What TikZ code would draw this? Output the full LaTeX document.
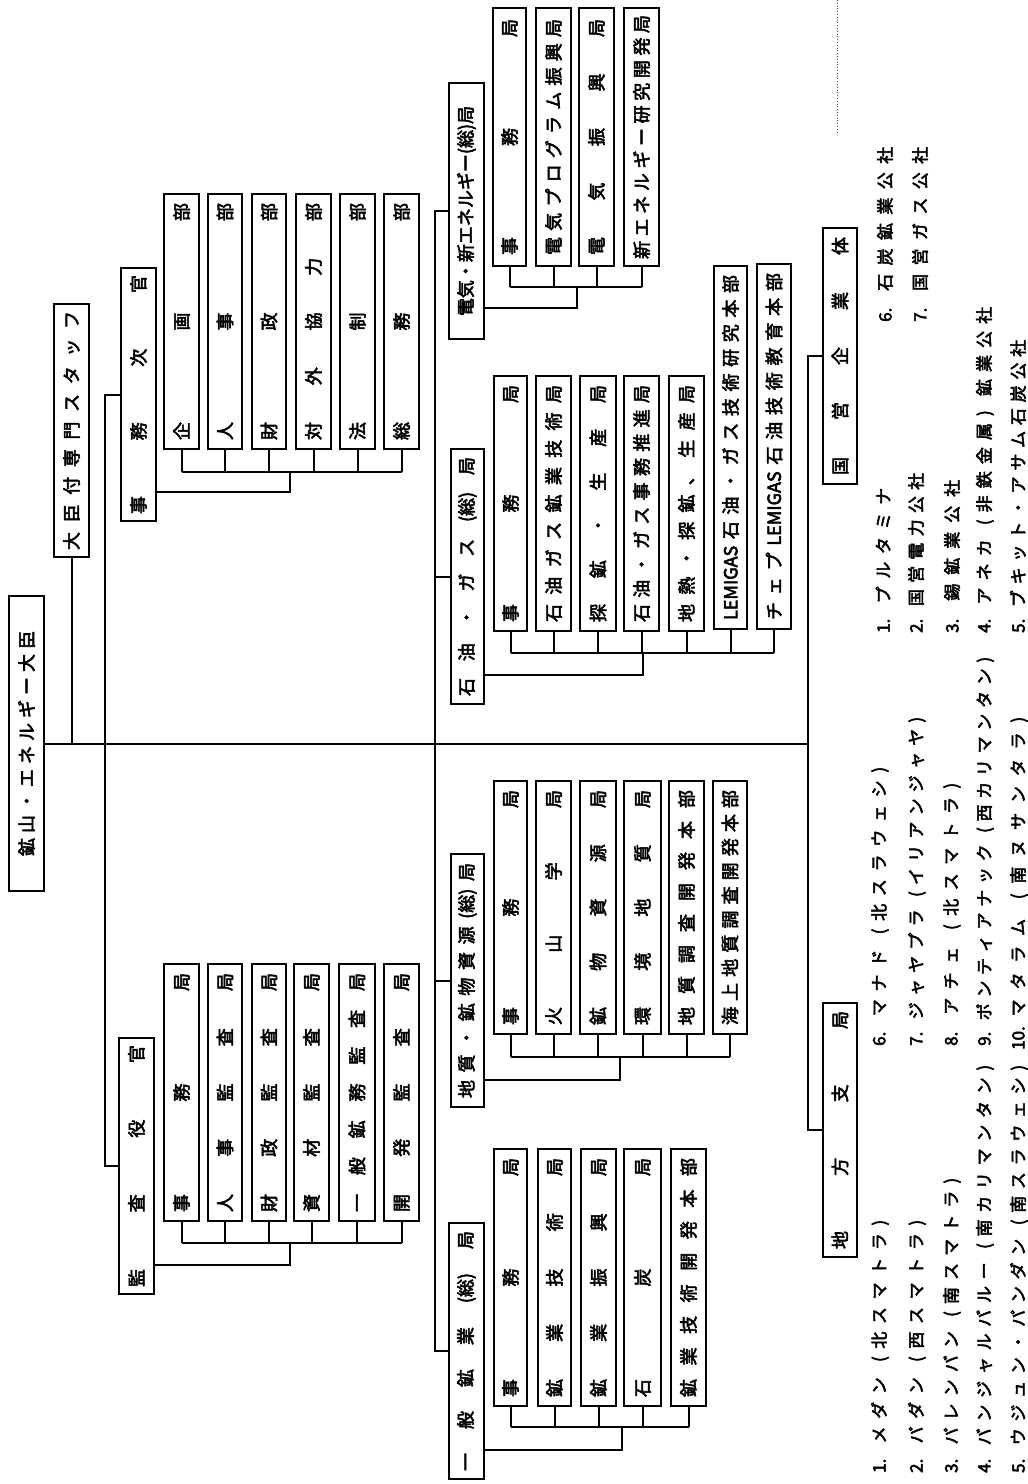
\documentclass[tikz,border=0pt]{standalone}
\usepackage{fontspec}
\setmainfont{Noto Sans CJK JP}[AutoFakeBold=3]
\tikzset{
  obx/.style={draw, line width=2.4pt, rotate=90, inner sep=0pt, fill=white,
    font=\bfseries\fontsize{18}{18}\selectfont},
  con/.style={line width=2pt},
  legtext/.style={rotate=90, inner sep=0pt, anchor=west,
    font=\bfseries\fontsize{17}{17}\selectfont},
}
\newcommand{\orgbox}[7]{%
  \pgfmathsetmacro{\oX}{(#2+#3)/2}%
  \pgfmathsetmacro{\oY}{(#4+#5)/2}%
  \pgfmathsetmacro{\oL}{#5-#4-2.4}%
  \pgfmathsetmacro{\oT}{#3-#2-2.4}%
  \pgfmathsetmacro{\oW}{#5-#4-2*#6}%
  \node[obx, minimum width=\oL pt, minimum height=\oT pt] (#1) at (\oX,\oY) {\makebox[\oW pt][s]{#7}};%
}
\newcommand{\orgboxc}[7]{%
  \pgfmathsetmacro{\oX}{(#2+#3)/2}%
  \pgfmathsetmacro{\oY}{(#4+#5)/2}%
  \pgfmathsetmacro{\oL}{#5-#4-2.4}%
  \pgfmathsetmacro{\oT}{#3-#2-2.4}%
  \pgfmathsetmacro{\oW}{#5-#4-2*#6}%
  \node[obx, minimum width=\oL pt, minimum height=\oT pt] (#1) at (\oX,\oY) {\makebox[\oW pt][c]{#7}};%
}
\newcommand{\legtxt}[5]{%
  \pgfmathsetmacro{\oW}{#3-#4}%
  \node[legtext] (#1) at (#2,#3) {\makebox[\oW pt][s]{#5}};%
}
\begin{document}
\begin{tikzpicture}[x=1pt,y=-1pt]
\useasboundingbox (0,0) rectangle (1028,1484);
\fill[white] (0,0) rectangle (1028,1484);

% ---- level 0 / 1
\orgbox{M}{8}{45}{595}{892}{36}{鉱 山 ・ エ ネ ル ギ ー 大 臣}
\orgbox{A}{53}{90}{303}{558}{8}{大 臣 付 専 門 ス タ ッ フ}
\orgbox{J}{120}{157}{267}{522}{8}{事 務 次 官}
\orgbox{K}{118}{155}{1037}{1295}{8}{監 査 役 官}
\orgboxc{E}{448}{485}{82}{340}{20}{電気・新エネルギー(総)局}
\orgbox{P}{450}{485}{448}{705}{9}{石 油 ・ ガ ス (総) 局}
\orgbox{G}{450}{485}{853}{1108}{10}{地 質 ・ 鉱 物 資 源 (総) 局}
\orgbox{I}{448}{485}{1222}{1480}{9}{一 般 鉱 業 (総) 局}
\orgbox{N}{822}{858}{227}{485}{10}{国 営 企 業 体}
\orgbox{L}{822}{858}{1002}{1258}{9}{地 方 支 局}

% ---- 事務次官 group
\orgbox{J1}{163}{200}{193}{450}{10}{企 画 部}
\orgbox{J2}{207}{243}{193}{450}{10}{人 事 部}
\orgbox{J3}{251}{287}{193}{450}{10}{財 政 部}
\orgbox{J4}{295}{332}{193}{450}{10}{対 外 協 力 部}
\orgbox{J5}{339}{376}{193}{450}{10}{法 制 部}
\orgbox{J6}{383}{420}{193}{450}{10}{総 務 部}

% ---- 監査役官 group
\orgbox{K1}{163}{200}{963}{1222}{10}{事 務 局}
\orgbox{K2}{207}{243}{963}{1222}{10}{人 事 監 査 局}
\orgbox{K3}{251}{287}{963}{1222}{10}{財 政 監 査 局}
\orgbox{K4}{293}{330}{963}{1222}{10}{資 材 監 査 局}
\orgbox{K5}{338}{376}{963}{1222}{10}{一 般 鉱 務 監 査 局}
\orgbox{K6}{383}{420}{963}{1222}{10}{開 発 監 査 局}

% ---- 電気 group
\orgbox{E1}{492}{527}{7}{267}{12}{事 務 局}
\orgbox{E2}{535}{572}{7}{267}{12}{電 気 プ ロ グ ラ ム 振 興 局}
\orgbox{E3}{578}{615}{7}{267}{12}{電 気 振 興 局}
\orgbox{E4}{623}{660}{7}{267}{8}{新 エ ネ ル ギ ー 研 究 開 発 局}

% ---- 石油 group
\orgbox{P1}{493}{528}{375}{632}{10}{事 務 局}
\orgbox{P2}{535}{572}{375}{632}{10}{石 油 ガ ス 鉱 業 技 術 局}
\orgbox{P3}{579}{617}{375}{632}{10}{探 鉱 ・ 生 産 局}
\orgbox{P4}{623}{660}{375}{632}{10}{石 油 ・ ガ ス 事 務 推 進 局}
\orgbox{P5}{668}{705}{375}{632}{10}{地 熱 ・ 探 鉱 、 生 産 局}
\orgbox{P6}{713}{748}{265}{630}{10}{LEMIGAS 石 油 ・ ガ ス 技 術 研 究 本 部}
\orgbox{P7}{756}{792}{263}{630}{10}{チ ェ プ LEMIGAS 石 油 技 術 教 育 本 部}

% ---- 地質 group
\orgbox{G1}{493}{528}{780}{1035}{10}{事 務 局}
\orgbox{G2}{535}{572}{780}{1035}{10}{火 山 学 局}
\orgbox{G3}{579}{617}{780}{1035}{10}{鉱 物 資 源 局}
\orgbox{G4}{623}{662}{780}{1035}{10}{環 境 地 質 局}
\orgbox{G5}{668}{705}{780}{1035}{10}{地 質 調 査 開 発 本 部}
\orgbox{G6}{712}{748}{780}{1035}{10}{海 上 地 質 調 査 開 発 本 部}

% ---- 一般鉱業 group
\orgbox{I1}{493}{528}{1148}{1407}{10}{事 務 局}
\orgbox{I2}{537}{572}{1148}{1407}{10}{鉱 業 技 術 局}
\orgbox{I3}{580}{617}{1148}{1407}{10}{鉱 業 振 興 局}
\orgbox{I4}{623}{662}{1148}{1407}{10}{石 炭 局}
\orgbox{I5}{670}{707}{1148}{1407}{10}{鉱 業 技 術 開 発 本 部}

% ---- trunk lines
\coordinate (tJ) at (105,0);
\coordinate (tE) at (435,0);
\coordinate (tN) at (808,0);
\draw[con] (M.south) -- (M.south -| tN);
\draw[con] (A.west) -- (A.west |- M.south);
\draw[con] (J.north) -- (J.north -| tJ) -- (K.north -| tJ) -- (K.north);
\draw[con] (E.north) -- (E.north -| tE) -- (I.north -| tE) -- (I.north);
\draw[con] (P.north) -- (P.north -| tE);
\draw[con] (G.north) -- (G.north -| tE);
\draw[con] (N.north) -- (N.north -| tN) -- (L.north -| tN) -- (L.north);

% ---- brackets
\coordinate (Jb) at (290,472);  \coordinate (Jl) at (290,492);
\draw[con] (J.south |- Jl) -- (Jl) -- (Jb);
\draw[con] (J1.west |- Jb) -- (J6.west |- Jb);
\foreach \i in {1,...,6} \draw[con] (J\i.west) -- (J\i.west |- Jb);

\coordinate (Kb) at (290,1243); \coordinate (Kl) at (290,1265);
\draw[con] (K.south |- Kl) -- (Kl) -- (Kb);
\draw[con] (K1.west |- Kb) -- (K6.west |- Kb);
\foreach \i in {1,...,6} \draw[con] (K\i.west) -- (K\i.west |- Kb);

\coordinate (Eb) at (577,287);  \coordinate (El) at (577,308);
\draw[con] (E.south |- El) -- (El) -- (Eb);
\draw[con] (E1.west |- Eb) -- (E4.west |- Eb);
\foreach \i in {1,...,4} \draw[con] (E\i.west) -- (E\i.west |- Eb);

\coordinate (Pb) at (643,653);  \coordinate (Pl) at (643,675);
\draw[con] (P.south |- Pl) -- (Pl) -- (Pb);
\draw[con] (P1.west |- Pb) -- (P7.west |- Pb);
\foreach \i in {1,...,7} \draw[con] (P\i.west) -- (P\i.west |- Pb);

\coordinate (Gb) at (620,1057); \coordinate (Gl) at (620,1080);
\draw[con] (G.south |- Gl) -- (Gl) -- (Gb);
\draw[con] (G1.west |- Gb) -- (G6.west |- Gb);
\foreach \i in {1,...,6} \draw[con] (G\i.west) -- (G\i.west |- Gb);

\coordinate (Ib) at (622,1427); \coordinate (Il) at (622,1450);
\draw[con] (I.south |- Il) -- (Il) -- (Ib);
\draw[con] (I1.west |- Ib) -- (I5.west |- Ib);
\foreach \i in {1,...,5} \draw[con] (I\i.west) -- (I\i.west |- Ib);

% ---- scan fold mark
\draw[dotted, line width=0.8pt, black!70] (837,0) -- (837,133);

% ---- legend
\legtxt{a1}{880}{1473}{1220}{1.\ \ メ ダ ン \ ( 北 ス マ ト ラ )}
\legtxt{a2}{917}{1473}{1220}{2.\ \ パ ダ ン \ ( 西 ス マ ト ラ )}
\legtxt{a3}{952}{1473}{1178}{3.\ \ パ レ ン バ ン \ ( 南 ス マ ト ラ )}
\legtxt{a4}{985}{1473}{1065}{4.\ \ バ ン ジ ャ ル バ ル ー \ ( 南 カ リ マ ン タ ン )}
\legtxt{a5}{1019}{1473}{1065}{5.\ \ ウ ジ ュ ン ・ パ ン ダ ン \ ( 南 ス ラ ウ ェ シ )}

\legtxt{b6}{880}{1046}{767}{6.\ \ マ ナ ド \ ( 北 ス ラ ウ ェ シ )}
\legtxt{b7}{917}{1046}{717}{7.\ \ ジ ャ ヤ プ ラ \ ( イ リ ア ン ジ ャ ヤ )}
\legtxt{b8}{952}{1046}{783}{8.\ \ ア チ ェ \ ( 北 ス マ ト ラ )}
\legtxt{b9}{985}{1046}{657}{9.\ \ ポ ン テ ィ ア ナ ッ ク \ ( 西 カ リ マ ン タ ン )}
\legtxt{b10}{1019}{1050}{717}{10.\ マ タ ラ ム \ ( 南 ヌ サ ン タ ラ )}

\legtxt{c1}{883}{633}{488}{1.\ \ プ ル タ ミ ナ}
\legtxt{c2}{916}{633}{473}{2.\ \ 国 営 電 力 公 社}
\legtxt{c3}{952}{633}{480}{3.\ \ 錫 鉱 業 公 社}
\legtxt{c4}{985}{633}{307}{4.\ \ ア ネ カ \ ( 非 鉄 金 属 ) \ 鉱 業 公 社}
\legtxt{c5}{1018}{633}{340}{5.\ \ ブ キ ッ ト ・ ア サ ム 石 炭 公 社}

\legtxt{d6}{885}{322}{147}{6.\ \ 石 炭 鉱 業 公 社}
\legtxt{d7}{920}{322}{147}{7.\ \ 国 営 ガ ス 公 社}
\end{tikzpicture}
\end{document}
